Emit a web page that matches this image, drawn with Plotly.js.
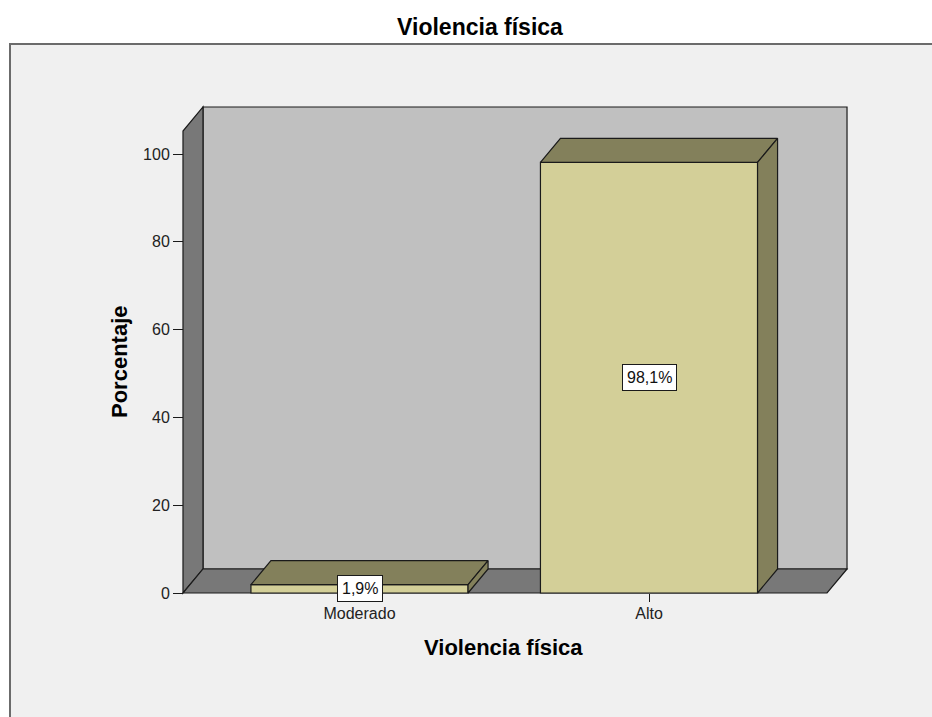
<!DOCTYPE html>
<html>
<head>
<meta charset="utf-8">
<script src="https://cdn.plot.ly/plotly-3.0.1.min.js"></script>
<style>
  html, body { margin: 0; padding: 0; background: #ffffff; }
  #chart { width: 932px; height: 717px; }
</style>
</head>
<body>
<div id="chart"></div>
<script>
// ---- data ----
const categories = ['Moderado', 'Alto'];
const percentages = [1.9, 98.1];
const yTickValues = [0, 20, 40, 60, 80, 100];
const chartTitle = 'Violencia física';
const xTitle = 'Violencia física';
const yTitle = 'Porcentaje';

// ---- style / geometry constants ----
const FRONT_COLOR = '#d3cf98';
const SHADE_COLOR = '#83805b';
const BACK_WALL = '#c0c0c0';
const SIDE_WALL = '#787878';
const EDGE = '#1a1a1a';
const BAR_WIDTH = 0.75;
const DX = 0.0691;   // depth offset in x units
const DY = 5.47;     // depth offset in y units
const X_FRONT_LEFT = -0.6097, X_FRONT_RIGHT = 1.6149;
const Y_FRONT_TOP = 105.24;

const xs = categories.map((c, i) => i);
const fmt = v => v.toFixed(1).replace('.', ',') + '%';

const traces = [];
// front faces
traces.push({
  type: 'bar', x: xs, y: percentages, width: BAR_WIDTH,
  marker: { color: FRONT_COLOR, line: { color: EDGE, width: 1.2 } },
  hoverinfo: 'skip', showlegend: false
});
// top and side faces
xs.forEach((x, i) => {
  const v = percentages[i];
  const l = x - BAR_WIDTH / 2, r = x + BAR_WIDTH / 2;
  traces.push({
    type: 'scatter', mode: 'lines', fill: 'toself', fillcolor: SHADE_COLOR,
    x: [l, r, r + DX, l + DX, l], y: [v, v, v + DY, v + DY, v],
    line: { color: EDGE, width: 1.2 }, hoverinfo: 'skip', showlegend: false
  });
  traces.push({
    type: 'scatter', mode: 'lines', fill: 'toself', fillcolor: SHADE_COLOR,
    x: [r, r, r + DX, r + DX, r], y: [0, v, v + DY, DY, 0],
    line: { color: EDGE, width: 1.2 }, hoverinfo: 'skip', showlegend: false
  });
});

const L = 176, R = 78, T = 100, B = 117;
const W = 932 - L - R, H = 717 - T - B;
const px2paperX = p => (p - L) / W;
const px2paperY = p => (717 - B - p) / H;

const shapes = [
  // outer frame
  { type: 'rect', xref: 'paper', yref: 'paper', layer: 'below',
    x0: px2paperX(10), x1: 2, y0: -1, y1: px2paperY(44),
    fillcolor: '#f0f0f0', line: { color: '#6b6b6b', width: 2 } },
  // back wall
  { type: 'rect', xref: 'x', yref: 'y', layer: 'below',
    x0: X_FRONT_LEFT + DX, x1: X_FRONT_RIGHT + DX, y0: DY, y1: Y_FRONT_TOP + DY,
    fillcolor: BACK_WALL, line: { color: EDGE, width: 1.2 } },
  // left wall
  { type: 'path', xref: 'x', yref: 'y', layer: 'below',
    path: `M${X_FRONT_LEFT},0 L${X_FRONT_LEFT},${Y_FRONT_TOP} L${X_FRONT_LEFT + DX},${Y_FRONT_TOP + DY} L${X_FRONT_LEFT + DX},${DY} Z`,
    fillcolor: SIDE_WALL, line: { color: EDGE, width: 1.2 } },
  // floor
  { type: 'path', xref: 'x', yref: 'y', layer: 'below',
    path: `M${X_FRONT_LEFT},0 L${X_FRONT_RIGHT},0 L${X_FRONT_RIGHT + DX},${DY} L${X_FRONT_LEFT + DX},${DY} Z`,
    fillcolor: SIDE_WALL, line: { color: EDGE, width: 1.2 } }
];

const annotations = xs.map((x, i) => ({
  xref: 'x', yref: 'y', x: x, y: percentages[i] / 2,
  text: fmt(percentages[i]), showarrow: false,
  bgcolor: '#ffffff', bordercolor: EDGE, borderwidth: 1, borderpad: 4,
  font: { family: 'Liberation Sans, Arial, sans-serif', size: 16, color: '#111' }
}));
annotations.push({
  xref: 'paper', yref: 'paper', x: px2paperX(503), y: px2paperY(647),
  xanchor: 'center', yanchor: 'middle', showarrow: false, text: xTitle,
  font: { family: 'Liberation Sans, Arial, sans-serif', size: 22, color: '#000', weight: 'bold' }
});
annotations.push({
  xref: 'paper', yref: 'paper', x: px2paperX(119), y: px2paperY(362),
  xanchor: 'center', yanchor: 'middle', showarrow: false, text: yTitle, textangle: -90,
  font: { family: 'Liberation Sans, Arial, sans-serif', size: 22, color: '#000', weight: 'bold' }
});

const layout = {
  width: 932, height: 717,
  margin: { l: L, r: R, t: T, b: B, pad: 0 },
  paper_bgcolor: '#ffffff', plot_bgcolor: 'rgba(0,0,0,0)',
  font: { family: 'Liberation Sans, Arial, sans-serif', color: '#222' },
  title: { text: chartTitle, x: 480 / 932, xanchor: 'center', xref: 'container',
           y: 1 - 27 / 717, yanchor: 'middle', yref: 'container',
           font: { family: 'Liberation Sans, Arial, sans-serif', size: 23, color: '#000', weight: 'bold' } },
  xaxis: {
    range: [-(359.5 - L) / 289.5, (932 - R - 359.5) / 289.5],
    tickvals: xs, ticktext: categories,
    ticks: 'outside', ticklen: 8, tickcolor: EDGE, tickwidth: 1,
    ticklabelstandoff: -2,
    showgrid: false, zeroline: false, showline: false,
    anchor: 'free', position: (717 - B - 593) / H,
    tickfont: { size: 16, color: '#222' }, fixedrange: true
  },
  yaxis: {
    range: [-(717 - B - 593) / 4.39, (593 - T) / 4.39],
    tickvals: yTickValues,
    ticks: 'outside', ticklen: 10, tickcolor: EDGE, tickwidth: 1,
    showgrid: false, zeroline: false, showline: false,
    anchor: 'free', position: (183 - L) / W,
    tickfont: { size: 16, color: '#222' }, fixedrange: true
  },
  shapes: shapes,
  annotations: annotations,
  showlegend: false,
  bargap: 0
};

Plotly.newPlot('chart', traces, layout, { displayModeBar: false, staticPlot: true });
</script>
</body>
</html>
